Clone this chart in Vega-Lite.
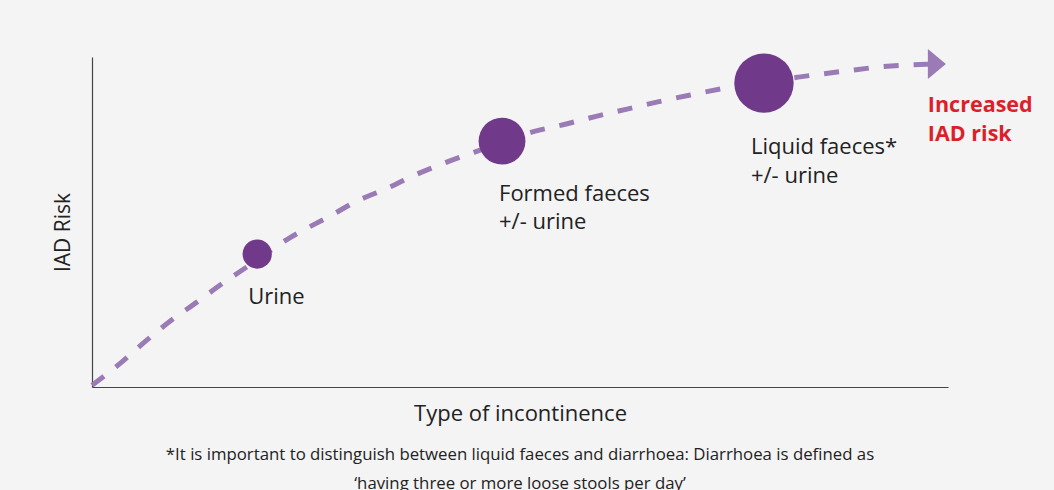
{
  "$schema": "https://vega.github.io/schema/vega-lite/v6.json",
  "width": 856,
  "height": 330,
  "autosize": {"type": "none"},
  "padding": {"left": 92, "top": 57, "right": 106, "bottom": 103},
  "background": "#f4f4f4",
  "config": {
    "view": {"stroke": null},
    "font": "Open Sans",
    "text": {"font": "Open Sans"}
  },
  "title": {
    "text": ["*It is important to distinguish between liquid faeces and diarrhoea: Diarrhoea is defined as", "‘having three or more loose stools per day’"],
    "orient": "bottom",
    "anchor": "middle",
    "font": "Open Sans",
    "fontSize": 16.8,
    "fontWeight": "normal",
    "color": "#222222",
    "lineHeight": 29,
    "offset": 23
  },
  "datasets": {
    "curve": [
      {"x": 0, "y": 0.5},
      {"x": 3.5, "y": 7.6},
      {"x": 6.4, "y": 14.2},
      {"x": 9.3, "y": 20.3},
      {"x": 12.3, "y": 25.8},
      {"x": 15.3, "y": 31.5},
      {"x": 18.1, "y": 36.4},
      {"x": 23.1, "y": 45.2},
      {"x": 27.8, "y": 51.8},
      {"x": 31.0, "y": 56.4},
      {"x": 34.3, "y": 60.0},
      {"x": 37.7, "y": 64.2},
      {"x": 41.2, "y": 67.9},
      {"x": 44.7, "y": 71.2},
      {"x": 51.9, "y": 77.6},
      {"x": 55.4, "y": 79.7},
      {"x": 59.0, "y": 82.1},
      {"x": 62.5, "y": 84.2},
      {"x": 66.1, "y": 86.4},
      {"x": 69.9, "y": 88.5},
      {"x": 73.4, "y": 90.3},
      {"x": 82.5, "y": 93.9},
      {"x": 88.2, "y": 95.8},
      {"x": 92.1, "y": 97.0},
      {"x": 95.6, "y": 97.6},
      {"x": 97.9, "y": 97.8}
    ],
    "points": [
      {"type": "Urine", "x": 19.3, "y": 40.3, "level": 1, "label": ["Urine"]},
      {"type": "Formed faeces", "x": 47.9, "y": 74.5, "level": 2, "label": ["Formed faeces", "+/- urine"]},
      {"type": "Liquid faeces", "x": 78.5, "y": 92.1, "level": 3, "label": ["Liquid faeces*", "+/- urine"]}
    ],
    "arrow": [
      {"x": 98.7, "y": 97.9, "label": ["Increased", "IAD risk"]}
    ]
  },
  "layer": [
    {
      "data": {"name": "curve"},
      "mark": {"type": "line", "color": "#9a7bb5", "strokeWidth": 5, "strokeDash": [15, 15], "strokeCap": "butt", "interpolate": "monotone"},
      "encoding": {
        "x": {"field": "x", "type": "quantitative", "scale": {"domain": [0, 100], "nice": false, "zero": false},
          "axis": {"title": "Type of incontinence", "labels": false, "ticks": false, "grid": false, "domainColor": "#444444", "domainWidth": 1.2, "titleFont": "Open Sans", "titleFontSize": 22, "titleFontWeight": "normal", "titleColor": "#222222", "titlePadding": 16}},
        "y": {"field": "y", "type": "quantitative", "scale": {"domain": [0, 100], "nice": false, "zero": false},
          "axis": {"title": "IAD Risk", "labels": false, "ticks": false, "grid": false, "domainColor": "#444444", "domainWidth": 1.2, "titleFont": "Open Sans", "titleFontSize": 21, "titleFontWeight": "normal", "titleColor": "#222222", "titleAngle": 270, "titleBaseline": "alphabetic", "titleX": -23, "titleY": 175}}
      }
    },
    {
      "data": {"name": "arrow"},
      "mark": {"type": "point", "shape": "M-0.6,-1L0.6,0L-0.6,1Z", "filled": true, "color": "#9a7bb5", "opacity": 1, "size": 900},
      "encoding": {
        "x": {"field": "x", "type": "quantitative"},
        "y": {"field": "y", "type": "quantitative"}
      }
    },
    {
      "data": {"name": "arrow"},
      "mark": {"type": "text", "align": "left", "baseline": "alphabetic", "dx": -9, "dy": 47.7, "fontSize": 21.5, "fontWeight": "bold", "color": "#dc1f2b", "lineHeight": 29},
      "encoding": {
        "x": {"field": "x", "type": "quantitative"},
        "y": {"field": "y", "type": "quantitative"},
        "text": {"field": "label"}
      }
    },
    {
      "data": {"name": "points"},
      "mark": {"type": "circle", "color": "#71398a", "opacity": 1},
      "encoding": {
        "x": {"field": "x", "type": "quantitative"},
        "y": {"field": "y", "type": "quantitative"},
        "size": {"field": "level", "type": "quantitative", "scale": {"domain": [1, 3], "range": [855, 3526], "zero": false}, "legend": null}
      }
    },
    {
      "data": {"name": "points"},
      "transform": [{"filter": "datum.type === 'Urine'"}],
      "mark": {"type": "text", "align": "left", "baseline": "alphabetic", "dx": -9, "dy": 49.5, "fontSize": 22, "color": "#222222", "lineHeight": 28},
      "encoding": {
        "x": {"field": "x", "type": "quantitative"},
        "y": {"field": "y", "type": "quantitative"},
        "text": {"field": "label"}
      }
    },
    {
      "data": {"name": "points"},
      "transform": [{"filter": "datum.type === 'Formed faeces'"}],
      "mark": {"type": "text", "align": "left", "baseline": "alphabetic", "dx": -3, "dy": 59.7, "fontSize": 22, "color": "#222222", "lineHeight": 28},
      "encoding": {
        "x": {"field": "x", "type": "quantitative"},
        "y": {"field": "y", "type": "quantitative"},
        "text": {"field": "label"}
      }
    },
    {
      "data": {"name": "points"},
      "transform": [{"filter": "datum.type === 'Liquid faeces'"}],
      "mark": {"type": "text", "align": "left", "baseline": "alphabetic", "dx": -13, "dy": 71, "fontSize": 22, "color": "#222222", "lineHeight": 29},
      "encoding": {
        "x": {"field": "x", "type": "quantitative"},
        "y": {"field": "y", "type": "quantitative"},
        "text": {"field": "label"}
      }
    }
  ]
}
